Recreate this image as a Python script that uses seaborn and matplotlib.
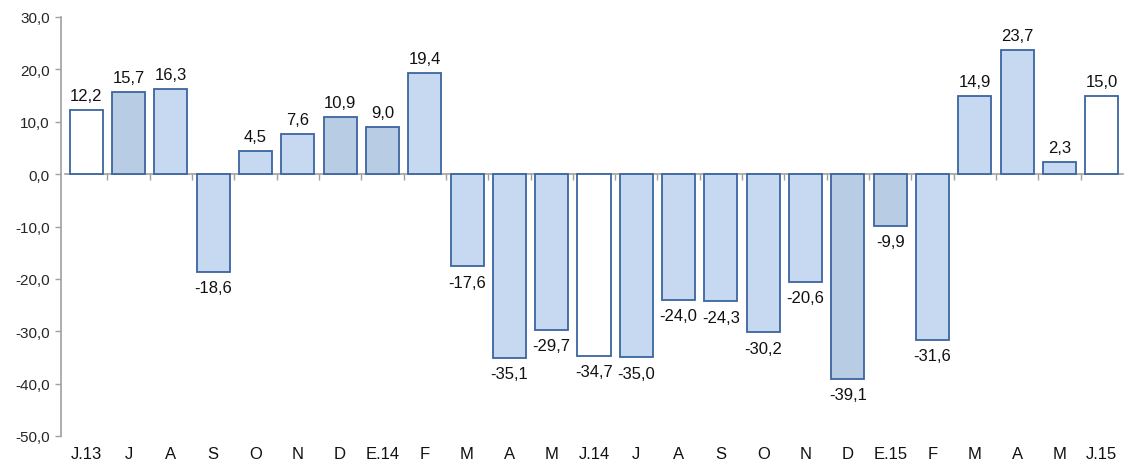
import matplotlib
matplotlib.use("Agg")
import matplotlib.pyplot as plt
import seaborn as sns
import pandas as pd

# ---- data ----
categories = ["J.13", "J", "A", "S", "O", "N", "D", "E.14", "F", "M", "A", "M",
              "J.14", "J", "A", "S", "O", "N", "D", "E.15", "F", "M", "A", "M", "J.15"]
values = [12.2, 15.7, 16.3, -18.6, 4.5, 7.6, 10.9, 9.0, 19.4, -17.6, -35.1, -29.7,
          -34.7, -35.0, -24.0, -24.3, -30.2, -20.6, -39.1, -9.9, -31.6, 14.9, 23.7, 2.3, 15.0]
groups = ["w", "d", "l", "l", "l", "l", "d", "d", "l", "l", "l", "l",
          "w", "l", "l", "l", "l", "l", "d", "d", "l", "l", "l", "l", "w"]
yticks = [30, 20, 10, 0, -10, -20, -30, -40, -50]

palette = {"w": "#FFFFFF", "l": "#C6D9F1", "d": "#B8CCE4"}

sns.set_theme(style="white")
plt.rcParams["font.family"] = ["Liberation Sans", "DejaVu Sans"]

df = pd.DataFrame({"pos": list(range(len(values))), "val": values, "grp": groups})

fig = plt.figure(figsize=(11.25, 4.64), dpi=100)
ax = fig.add_axes([65 / 1125, 27 / 464, (1123 - 65) / 1125, 419 / 464])

sns.barplot(data=df, x="pos", y="val", hue="grp", palette=palette, dodge=False,
            width=0.78, edgecolor="#3B64A0", linewidth=1.3, legend=False, ax=ax,
            saturation=1)

ax.set_xlim(-0.5, len(values) - 0.5)
ax.set_ylim(-50, 30)
ax.set_xlabel("")
ax.set_ylabel("")

FS = 12
# value labels
for i, v in enumerate(values):
    txt = f"{v:.1f}".replace(".", ",")
    if v >= 0:
        ax.annotate(txt, (i, v), xytext=(0, 5), textcoords="offset points",
                    ha="center", va="bottom", fontsize=FS, color="#111111")
    else:
        ax.annotate(txt, (i, v), xytext=(0, -6), textcoords="offset points",
                    ha="center", va="top", fontsize=FS, color="#111111")

# y axis
ax.set_yticks(yticks)
ax.set_yticklabels([f"{t:.1f}".replace(".", ",") for t in yticks], fontsize=12.5, color="#111111")
ax.tick_params(axis="y", direction="out", length=4, width=1, color="#A0A0A0", left=True, pad=4)
ax.spines["left"].set_color("#A0A0A0")
ax.spines["left"].set_linewidth(1.2)
ax.spines["left"].set_position(("outward", 3))
ax.spines["top"].set_visible(False)
ax.spines["right"].set_visible(False)

# x axis line at zero with boundary ticks
ax.spines["bottom"].set_position(("data", 0))
ax.spines["bottom"].set_color("#A0A0A0")
ax.spines["bottom"].set_linewidth(1.2)
ax.spines["bottom"].set_zorder(0.5)
ax.set_xticks([k + 0.5 for k in range(len(values) - 1)])
ax.set_xticklabels([])
ax.tick_params(axis="x", direction="out", length=4, width=1, color="#A0A0A0", bottom=True)

# category labels at the bottom
sec = ax.secondary_xaxis(0.0)
sec.set_xticks(range(len(categories)))
sec.set_xticklabels(categories, fontsize=FS, color="#111111")
sec.tick_params(axis="x", length=0, pad=7)
sec.spines["bottom"].set_visible(False)

fig.savefig("out.png", dpi=100)
